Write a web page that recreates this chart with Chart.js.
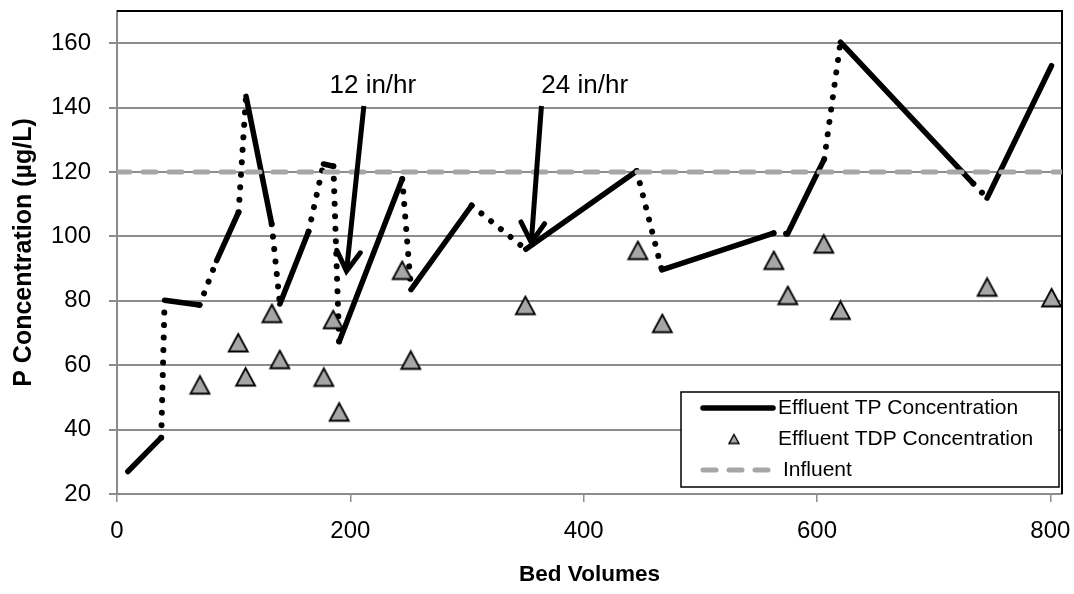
<!DOCTYPE html>
<html>
<head>
<meta charset="utf-8">
<script src="https://cdn.jsdelivr.net/npm/chart.js@4.4.1/dist/chart.umd.min.js"></script>
<style>
  html, body { margin: 0; padding: 0; background: #ffffff; }
  #wrap { position: relative; width: 1074px; height: 594px; }
</style>
</head>
<body>
<div id="wrap"><canvas id="chart" width="1074" height="594"></canvas></div>
<script>
// ---- Data ----
const tpBedVolumes      = [9.3, 37.9, 40.8, 70.8, 85.4, 104.2, 110.6, 132.6, 139.6, 164.2, 177.0, 185.5, 190.4, 244.5, 252.0, 304.0, 350.4, 445.5, 467.0, 562.8, 574.8, 606.2, 620.1, 734.0, 745.8, 801.0];
const tpConcentration   = [27.0, 37.5, 80.2, 78.7, 92.5, 107.5, 143.5, 103.8, 79.0, 101.5, 122.5, 121.8, 67.3, 117.8, 83.5, 109.6, 96.0, 120.3, 89.6, 101.0, 100.8, 124.0, 160.3, 116.4, 111.9, 153.0];
// sampling run each TP sample belongs to (samples in the same run are joined by a solid line,
// consecutive runs by a dotted line)
const tpRunEvent        = [1, 1, 2, 2, 3, 3, 4, 4, 5, 5, 6, 6, 7, 7, 8, 8, 9, 9, 10, 10, 11, 11, 12, 12, 13, 13];

const tdpBedVolumes     = [71.1, 103.9, 110.2, 132.8, 139.6, 177.3, 185.3, 190.4, 244.4, 251.8, 350.0, 446.5, 467.4, 563.0, 575.0, 605.8, 620.1, 745.8, 801.1];
const tdpConcentration  = [53.8, 66.9, 56.3, 76.0, 61.7, 56.2, 74.1, 45.4, 89.4, 61.5, 78.5, 95.6, 72.9, 92.5, 81.6, 97.6, 77.0, 84.2, 80.9];

const influentBedVolumes    = [0, 810];
const influentConcentration = [120, 120];

const xTickValues = [0, 200, 400, 600, 800];
const yTickValues = [20, 40, 60, 80, 100, 120, 140, 160];

const seriesLabels = ['Effluent TP Concentration', 'Effluent TDP Concentration', 'Influent'];
const axisTitles = { x: 'Bed Volumes', y: 'P Concentration (µg/L)' };

// flow-rate annotations: label position and arrow tail/tip, in data units
const rateLabels   = ['12 in/hr', '24 in/hr'];
const rateLabelX   = [219.3, 400.9];
const rateLabelY   = [144.4, 144.4];
const rateArrowX0  = [211.6, 363.8];
const rateArrowY0  = [140.5, 140.5];
const rateArrowX1  = [196.7, 355.1];
const rateArrowY1  = [89.2, 98.1];

// ---- styles ----
const FONT = "'Liberation Sans', Arial, sans-serif";
const TRI_FILL = '#a6a6a6';
const INFLUENT_COLOR = '#a6a6a6';
const GRID_COLOR = '#8c8c8c';

function makeTriangle(w, h, lw) {
  const c = document.createElement('canvas');
  const pad = Math.ceil(lw);
  c.width = Math.ceil(w + 2 * pad); c.height = Math.ceil(h + 2 * pad);
  const g = c.getContext('2d');
  g.beginPath();
  g.moveTo(pad + w / 2, pad);
  g.lineTo(pad + w, pad + h);
  g.lineTo(pad, pad + h);
  g.closePath();
  g.fillStyle = TRI_FILL;
  g.fill();
  g.lineWidth = lw;
  g.strokeStyle = '#000';
  g.lineJoin = 'miter';
  g.stroke();
  return c;
}
const triMarker = makeTriangle(19, 17.5, 1.8);
const triLegend = makeTriangle(10, 9, 1.4);

const DOTTED = [0.01, 12.5];

function noPad(s) {
  s.paddingTop = 0; s.paddingBottom = 0; s.paddingLeft = 0; s.paddingRight = 0;
}

const overlayPlugin = {
  id: 'overlay',
  beforeDatasetsDraw(chart) {
    const { ctx, chartArea: a } = chart;
    ctx.save();
    ctx.strokeStyle = '#000';
    ctx.lineWidth = 2;
    ctx.beginPath();
    ctx.moveTo(a.left, a.top);
    ctx.lineTo(a.right, a.top);
    ctx.lineTo(a.right, a.bottom);
    ctx.stroke();
    ctx.restore();
  },
  afterDatasetsDraw(chart) {
    const { ctx, chartArea: a, scales: { x, y } } = chart;
    ctx.save();
    // annotations
    ctx.fillStyle = '#000';
    ctx.font = `26px ${FONT}`;
    ctx.textAlign = 'center';
    ctx.textBaseline = 'alphabetic';
    for (let i = 0; i < rateLabels.length; i++) {
      ctx.fillText(rateLabels[i], x.getPixelForValue(rateLabelX[i]), y.getPixelForValue(rateLabelY[i]));
      const x0 = x.getPixelForValue(rateArrowX0[i]), y0 = y.getPixelForValue(rateArrowY0[i]);
      const x1 = x.getPixelForValue(rateArrowX1[i]), y1 = y.getPixelForValue(rateArrowY1[i]);
      ctx.strokeStyle = '#000';
      ctx.lineWidth = 5;
      ctx.lineCap = 'butt';
      ctx.beginPath();
      ctx.moveTo(x0, y0);
      ctx.lineTo(x1, y1);
      ctx.stroke();
      const ang = Math.atan2(y1 - y0, x1 - x0);
      const hl = 23, spread = 0.54;
      ctx.lineCap = 'round';
      ctx.lineJoin = 'miter';
      ctx.beginPath();
      ctx.moveTo(x1 - hl * Math.cos(ang - spread), y1 - hl * Math.sin(ang - spread));
      ctx.lineTo(x1, y1);
      ctx.lineTo(x1 - hl * Math.cos(ang + spread), y1 - hl * Math.sin(ang + spread));
      ctx.stroke();
    }
    // legend box
    const bx = a.right - 381, by = a.bottom - 102, bw = 378, bh = 95;
    ctx.fillStyle = '#fff';
    ctx.fillRect(bx, by, bw, bh);
    ctx.strokeStyle = '#000';
    ctx.lineWidth = 1.5;
    ctx.strokeRect(bx, by, bw, bh);
    const rows = [by + 16, by + 47, by + 78];
    // TP sample
    ctx.strokeStyle = '#000';
    ctx.lineWidth = 5.5;
    ctx.lineCap = 'round';
    ctx.setLineDash([]);
    ctx.beginPath();
    ctx.moveTo(bx + 22, rows[0]);
    ctx.lineTo(bx + 92, rows[0]);
    ctx.stroke();
    // TDP sample
    ctx.drawImage(triLegend, bx + 53 - triLegend.width / 2, rows[1] - triLegend.height / 2);
    // Influent sample
    ctx.strokeStyle = INFLUENT_COLOR;
    ctx.lineWidth = 5;
    ctx.setLineDash([13, 13]);
    ctx.beginPath();
    ctx.moveTo(bx + 22, rows[2]);
    ctx.lineTo(bx + 97, rows[2]);
    ctx.stroke();
    ctx.setLineDash([]);
    ctx.fillStyle = '#000';
    ctx.font = `21px ${FONT}`;
    ctx.textAlign = 'left';
    ctx.textBaseline = 'middle';
    ctx.fillText(seriesLabels[0], bx + 97, rows[0]);
    ctx.fillText(seriesLabels[1], bx + 97, rows[1]);
    ctx.fillText(seriesLabels[2], bx + 102, rows[2]);
    ctx.restore();
  }
};

new Chart(document.getElementById('chart'), {
  type: 'scatter',
  data: {
    datasets: [
      {
        label: seriesLabels[0],
        type: 'line',
        order: 3,
        data: tpBedVolumes.map((v, i) => ({ x: v, y: tpConcentration[i] })),
        borderColor: '#000',
        borderWidth: 5.5,
        borderCapStyle: 'round',
        borderJoinStyle: 'round',
        pointRadius: 0,
        tension: 0,
        fill: false,
        segment: {
          borderDash: c => tpRunEvent[c.p0DataIndex] === tpRunEvent[c.p1DataIndex] ? [] : DOTTED,
          borderWidth: c => tpRunEvent[c.p0DataIndex] === tpRunEvent[c.p1DataIndex] ? 5.5 : 6
        }
      },
      {
        label: seriesLabels[1],
        order: 2,
        data: tdpBedVolumes.map((v, i) => ({ x: v, y: tdpConcentration[i] })),
        pointStyle: triMarker,
        pointRadius: 10,
        showLine: false
      },
      {
        label: seriesLabels[2],
        type: 'line',
        order: 1,
        data: influentBedVolumes.map((v, i) => ({ x: v, y: influentConcentration[i] })),
        borderColor: INFLUENT_COLOR,
        borderWidth: 5,
        borderDash: [13, 13],
        borderCapStyle: 'round',
        pointRadius: 0,
        fill: false
      }
    ]
  },
  options: {
    responsive: false,
    animation: false,
    devicePixelRatio: 1,
    layout: { padding: { left: 0, right: 12, top: 10, bottom: 0 } },
    plugins: { legend: { display: false }, tooltip: { enabled: false } },
    scales: {
      x: {
        type: 'linear',
        min: 0, max: 810,
        afterFit: s => { s.height = 100; noPad(s); },
        afterBuildTicks: s => { s.ticks = xTickValues.map(v => ({ value: v })); },
        ticks: { font: { family: FONT, size: 24 }, color: '#000', padding: 15, maxRotation: 0, autoSkip: false },
        grid: { drawOnChartArea: false, drawTicks: true, tickLength: 8, color: GRID_COLOR, lineWidth: 1.5 },
        border: { color: GRID_COLOR, width: 2 },
        title: { display: true, text: axisTitles.x, color: '#000', font: { family: FONT, size: 22.5, weight: 'bold' }, padding: { top: 0, bottom: 6 } }
      },
      y: {
        type: 'linear',
        min: 20, max: 170,
        afterFit: s => { s.width = 117; noPad(s); },
        afterBuildTicks: s => { s.ticks = yTickValues.map(v => ({ value: v })); },
        ticks: { font: { family: FONT, size: 24 }, color: '#000', padding: 18 },
        grid: { drawOnChartArea: true, drawTicks: true, tickLength: 8, color: GRID_COLOR, lineWidth: 2 },
        border: { color: GRID_COLOR, width: 2 },
        title: { display: true, text: axisTitles.y, color: '#000', font: { family: FONT, size: 25, weight: 'bold' }, padding: { top: 9, bottom: 0 } }
      }
    }
  },
  plugins: [overlayPlugin]
});
</script>
</body>
</html>
